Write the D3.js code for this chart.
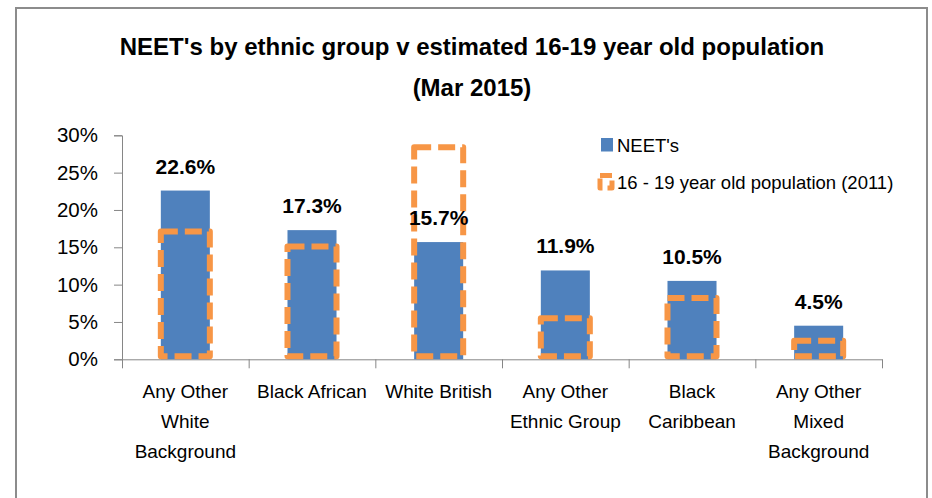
<!DOCTYPE html>
<html>
<head>
<meta charset="utf-8">
<script src="https://cdn.jsdelivr.net/npm/d3@7"></script>
<style>
  body { margin: 0; background: #fff; }
  svg { display: block; font-family: "Liberation Sans", Arial, sans-serif; }
</style>
</head>
<body>
<div id="chart"></div>
<script>
// data
const categories = ["Any Other White Background", "Black African", "White British",
  "Any Other Ethnic Group", "Black Caribbean", "Any Other Mixed Background"];
const tickLines = [["Any Other", "White", "Background"], ["Black African"], ["White British"],
  ["Any Other", "Ethnic Group"], ["Black", "Caribbean"], ["Any Other", "Mixed", "Background"]];
const neet = [22.6, 17.3, 15.7, 11.9, 10.5, 4.5];
const population = [17.1, 15.1, 28.4, 5.5, 8.2, 2.5];
const yTicks = [0, 5, 10, 15, 20, 25, 30];
const seriesNames = ["NEET's", "16 - 19 year old population (2011)"];

const blue = "#4f81bd";
const orange = "#f79646";
const axisGrey = "#868686";

const width = 932, height = 498;
const plot = { left: 122, right: 882, top: 135.3, bottom: 359.3 };

const svg = d3.select("#chart").append("svg")
    .attr("width", width)
    .attr("height", height);

// chart frame
svg.append("rect")
    .attr("x", 16).attr("y", 8)
    .attr("width", 911).attr("height", 520)
    .attr("fill", "#fff")
    .attr("stroke", "#8c8c8c")
    .attr("stroke-width", 2);

// title
const title = svg.append("text")
    .attr("text-anchor", "middle")
    .attr("font-weight", "bold")
    .attr("font-size", 24)
    .attr("fill", "#000");
title.append("tspan").attr("x", 472).attr("y", 55)
    .text("NEET's by ethnic group v estimated 16-19 year old population");
title.append("tspan").attr("x", 472).attr("y", 96)
    .text("(Mar 2015)");

// scales
const x = d3.scaleBand()
    .domain(categories)
    .range([plot.left, plot.right])
    .paddingInner(0.613)
    .paddingOuter(0.3065);

const xEdge = d3.scaleLinear()
    .domain([0, categories.length])
    .range([plot.left, plot.right]);

const y = d3.scaleLinear()
    .domain([0, 30])
    .range([plot.bottom, plot.top]);

// y axis
const yAxis = svg.append("g")
    .attr("transform", `translate(${plot.left},0)`)
    .call(d3.axisLeft(y).tickValues(yTicks).tickSize(8).tickPadding(16)
        .tickFormat(d => d + "%"));
yAxis.select(".domain").attr("stroke", axisGrey);
yAxis.selectAll(".tick line").attr("stroke", axisGrey);
yAxis.selectAll(".tick text")
    .attr("font-size", 20.5)
    .attr("fill", "#000")
    .attr("font-family", "Liberation Sans, Arial, sans-serif");

// x axis (ticks sit between categories)
const xAxis = svg.append("g")
    .attr("transform", `translate(0,${plot.bottom})`)
    .call(d3.axisBottom(xEdge).tickValues(d3.range(categories.length + 1))
        .tickSize(9).tickSizeOuter(0).tickFormat(""));
xAxis.select(".domain").attr("stroke", axisGrey);
xAxis.selectAll(".tick line").attr("stroke", axisGrey);

const labels = svg.append("g")
    .attr("font-size", 19)
    .attr("fill", "#000")
    .attr("text-anchor", "middle");
categories.forEach((c, i) => {
  const t = labels.append("text");
  tickLines[i].forEach((line, j) => {
    t.append("tspan")
        .attr("x", x(c) + x.bandwidth() / 2)
        .attr("y", plot.bottom + 39 + j * 30)
        .text(line);
  });
});

// NEET bars
svg.append("g").selectAll("rect")
    .data(neet)
    .join("rect")
    .attr("x", (d, i) => x(categories[i]))
    .attr("y", d => y(d))
    .attr("width", x.bandwidth())
    .attr("height", d => y(0) - y(d))
    .attr("fill", blue);

// population outlines
svg.append("g").selectAll("rect")
    .data(population)
    .join("rect")
    .attr("x", (d, i) => x(categories[i]))
    .attr("y", d => y(d))
    .attr("width", x.bandwidth())
    .attr("height", d => y(0) - y(d) - 3)
    .attr("fill", "none")
    .attr("stroke", orange)
    .attr("stroke-width", 6)
    .attr("stroke-linejoin", "round")
    .attr("stroke-dasharray", "17 7");

// data labels
svg.append("g").selectAll("text")
    .data(neet)
    .join("text")
    .attr("x", (d, i) => x(categories[i]) + x.bandwidth() / 2)
    .attr("y", d => y(d) - 17)
    .attr("text-anchor", "middle")
    .attr("font-weight", "bold")
    .attr("font-size", 21)
    .attr("fill", "#000")
    .text(d => d.toFixed(1) + "%");

// legend
const legend = svg.append("g");
legend.append("rect")
    .attr("x", 601).attr("y", 138)
    .attr("width", 12).attr("height", 13.5)
    .attr("fill", blue);
legend.append("rect")
    .attr("x", 600).attr("y", 175.5)
    .attr("width", 12).attr("height", 12.5)
    .attr("fill", "none")
    .attr("stroke", orange)
    .attr("stroke-width", 5)
    .attr("stroke-linejoin", "round")
    .attr("stroke-dasharray", "12 5");
legend.selectAll("text")
    .data(seriesNames)
    .join("text")
    .attr("x", 617)
    .attr("y", (d, i) => 151.5 + i * 37)
    .attr("font-size", 18.5)
    .attr("fill", "#000")
    .text(d => d);
</script>
</body>
</html>
